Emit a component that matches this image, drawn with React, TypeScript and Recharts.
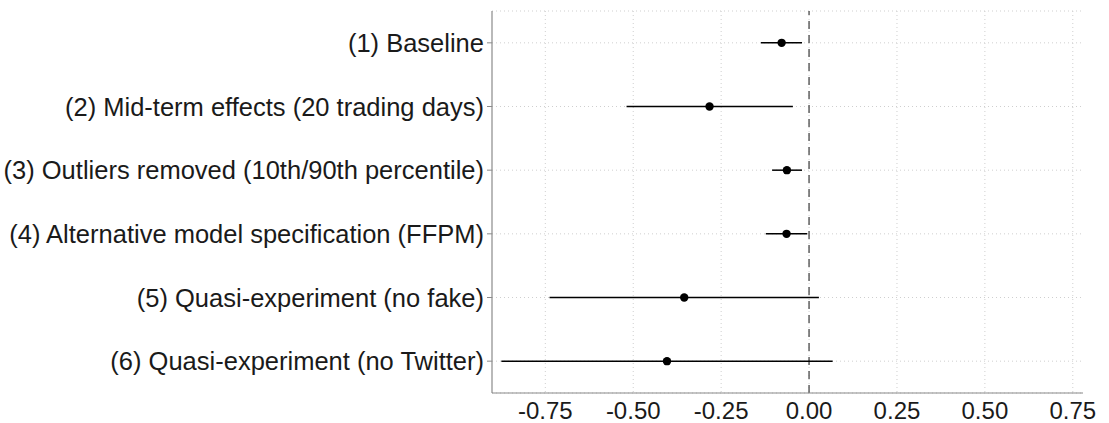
import React from "react";
import {
  ScatterChart,
  Scatter,
  XAxis,
  YAxis,
  CartesianGrid,
  ReferenceLine,
  ErrorBar,
} from "recharts";

const labels = [
  "(1) Baseline",
  "(2) Mid-term effects (20 trading days)",
  "(3) Outliers removed (10th/90th percentile)",
  "(4) Alternative model specification (FFPM)",
  "(5) Quasi-experiment (no fake)",
  "(6) Quasi-experiment (no Twitter)",
];
const estimates = [-0.078, -0.283, -0.063, -0.064, -0.355, -0.404];
const lower = [-0.137, -0.519, -0.105, -0.123, -0.738, -0.875];
const upper = [-0.02, -0.046, -0.02, -0.005, 0.028, 0.067];
const xTicks = [-0.75, -0.5, -0.25, 0, 0.25, 0.5, 0.75];

const FONT = "'Liberation Sans', Arial, sans-serif";

const data = labels.map((label, i) => ({
  label,
  row: i + 1,
  est: estimates[i],
  err: [estimates[i] - lower[i], upper[i] - estimates[i]],
}));

const Dot = (props: any) => <circle cx={props.cx} cy={props.cy} r={4.2} fill="#000" />;

export default function App() {
  return (
    <div style={{ position: "absolute", left: 0, top: 0, background: "#fff" }}>
      <ScatterChart
        width={1109}
        height={423}
        margin={{ top: 11, right: 26, bottom: 0, left: 0 }}
      >
        <CartesianGrid
          stroke="#cfcfcf"
          strokeDasharray="1 3"
          verticalValues={xTicks}
        />
        <XAxis
          type="number"
          dataKey="est"
          domain={[-0.9016, 0.779]}
          allowDataOverflow
          ticks={xTicks}
          tickFormatter={(v: number) => v.toFixed(2)}
          tickLine={false}
          tickSize={6}
          tickMargin={3}
          height={30}
          axisLine={{ stroke: "#8a8a8a", strokeWidth: 1.2 }}
          tick={{ fill: "#1a1a1a", fontSize: 24, fontFamily: FONT }}
        />
        <YAxis
          type="number"
          dataKey="row"
          domain={[0.5, 6.5]}
          reversed
          ticks={[1, 2, 3, 4, 5, 6]}
          tickFormatter={(v: number) => labels[v - 1] ?? ""}
          width={492}
          tickSize={5}
          tickMargin={3}
          tickLine={{ stroke: "#8a8a8a" }}
          axisLine={{ stroke: "#8a8a8a", strokeWidth: 1.2 }}
          tick={{ fill: "#1a1a1a", fontSize: 25.5, fontFamily: FONT }}
          interval={0}
        />
        <ReferenceLine x={0} stroke="#606060" strokeWidth={1.5} strokeDasharray="8 6" />
        <Scatter data={data} shape={<Dot />} isAnimationActive={false}>
          <ErrorBar dataKey="err" direction="x" width={0} stroke="#000" strokeWidth={1.5} />
        </Scatter>
      </ScatterChart>
    </div>
  );
}
